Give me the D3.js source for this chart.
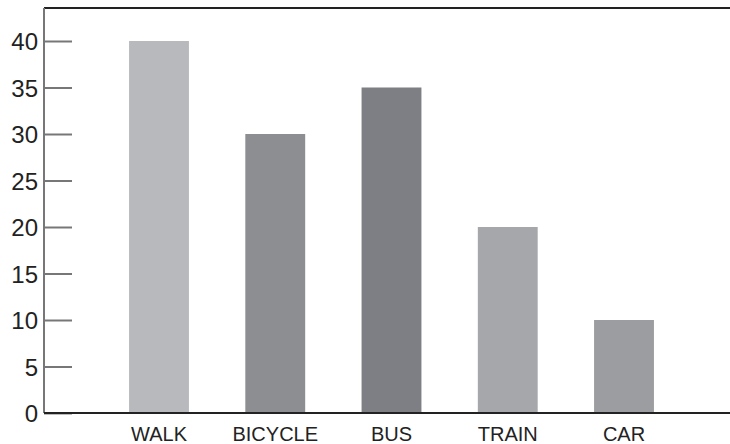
<!DOCTYPE html>
<html><head><meta charset="utf-8">
<script src="https://cdn.jsdelivr.net/npm/d3@7"></script>
<style>body{margin:0;background:#fff}svg{display:block}</style>
</head><body>
<script>
const categories = ["WALK","BICYCLE","BUS","TRAIN","CAR"];
const values = [40,30,35,20,10];
const colors = ["#b8b9bd","#8d8e92","#7e7f84","#a6a7ab","#9c9da1"];
const yTicks = [0,5,10,15,20,25,30,35,40];

const W=730,H=444;
const svg=d3.select("body").append("svg").attr("width",W).attr("height",H);
const mLeft=44, mRight=730, mTop=8, mBottom=413;
const y=d3.scaleLinear().domain([0,40]).range([mBottom,41]);
const x=d3.scaleBand().domain(categories).range([100,683]).paddingInner(0.485).paddingOuter(0.25);

svg.selectAll("rect.bar").data(categories).enter().append("rect")
  .attr("x",d=>x(d)).attr("width",x.bandwidth())
  .attr("y",(d,i)=>y(values[i])).attr("height",(d,i)=>y(0)-y(values[i]))
  .attr("fill",(d,i)=>colors[i]);

// top border
svg.append("line").attr("x1",mLeft).attr("x2",mRight).attr("y1",mTop).attr("y2",mTop)
  .attr("stroke","#222").attr("stroke-width",2);

const ya=svg.append("g").attr("transform",`translate(${mLeft},0)`)
  .call(d3.axisLeft(y).tickValues(yTicks).tickSize(-28).tickPadding(6));
ya.select(".domain").remove();
ya.selectAll(".tick line").attr("stroke","#777").attr("stroke-width",2);
ya.selectAll(".tick text").attr("font-family","Liberation Sans, Arial, sans-serif")
  .attr("font-size",24).attr("fill","#222").attr("dy","0.36em");
svg.append("line").attr("x1",mLeft).attr("x2",mLeft).attr("y1",mTop).attr("y2",mBottom)
  .attr("stroke","#777").attr("stroke-width",2);

const xa=svg.append("g").attr("transform",`translate(0,${mBottom})`)
  .call(d3.axisBottom(x).tickSize(0));
xa.select(".domain").remove();
xa.selectAll(".tick text").attr("font-family","Liberation Sans, Arial, sans-serif")
  .attr("font-size",20).attr("fill","#222").attr("y",28).attr("dy",0);
svg.append("line").attr("x1",mLeft).attr("x2",mRight).attr("y1",mBottom).attr("y2",mBottom)
  .attr("stroke","#222").attr("stroke-width",2);
</script>
</body></html>
